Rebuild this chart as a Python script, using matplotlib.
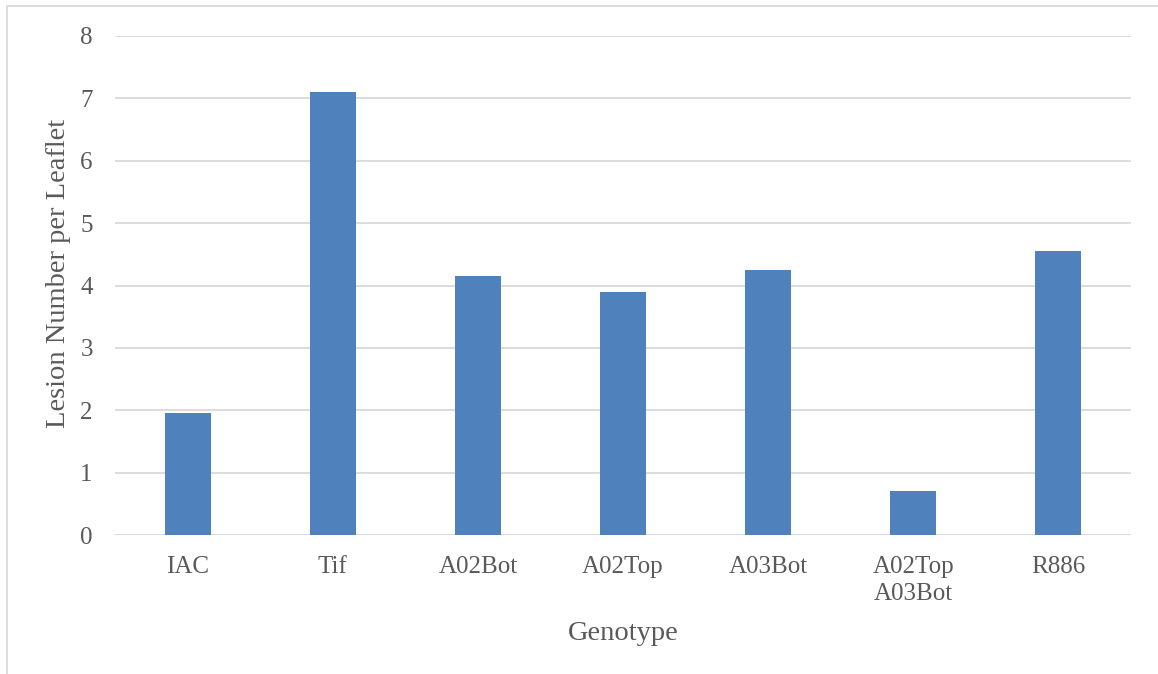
import matplotlib
matplotlib.use("Agg")
import matplotlib.pyplot as plt
from matplotlib.patches import Rectangle

# Lesion counts per genotype
genotypes = ["IAC", "Tif", "A02Bot", "A02Top", "A03Bot", "A02Top\nA03Bot", "R886"]
lesions = [1.95, 7.1, 4.15, 3.9, 4.25, 0.7, 4.55]
y_ticks = [0, 1, 2, 3, 4, 5, 6, 7, 8]

W, H, DPI = 1158, 674, 100
text_color = "#595959"
grid_color = "#d9d9d9"
bar_color = "#4f81bd"

plt.rcParams["font.family"] = ["Liberation Serif", "DejaVu Serif"]

fig = plt.figure(figsize=(W / DPI, H / DPI), dpi=DPI)
fig.patch.set_facecolor("white")

# chart frame (light border at top-left)
fig.add_artist(Rectangle((7 / W, -0.1), 1.2, 1 - 6.5 / H + 0.1,
                         transform=fig.transFigure, fill=False,
                         edgecolor=grid_color, linewidth=1.3))

# plot area in pixel units
left, right, top, bottom = 115, 1131, 36, 535
ax = fig.add_axes([left / W, 1 - bottom / H, (right - left) / W, (bottom - top) / H])

x = range(len(genotypes))
ax.bar(x, lesions, width=0.317, color=bar_color, zorder=3)

ax.set_xlim(-0.5, len(genotypes) - 0.5)
ax.set_ylim(0, 8)
ax.set_yticks(y_ticks)
ax.set_xticks(list(x))
ax.set_xticklabels(genotypes, linespacing=1.3)

ax.grid(axis="y", color=grid_color, linewidth=1.3, zorder=0)
ax.axhline(0, color=grid_color, linewidth=2, zorder=2)
for s in ax.spines.values():
    s.set_visible(False)

ax.tick_params(axis="both", length=0, labelsize=18, colors=text_color)
ax.tick_params(axis="y", pad=16)
ax.tick_params(axis="x", pad=15)

ax.set_xlabel("Genotype", fontsize=20.5, color=text_color)
ax.set_ylabel("Lesion Number per Leaflet", fontsize=20.5, color=text_color)
ax.xaxis.set_label_coords(0.5, -(640 - bottom) / (bottom - top))
ax.xaxis.label.set_va("baseline")
ax.yaxis.set_label_coords(-(left - 59) / (right - left), (bottom - 273) / (bottom - top))
ax.yaxis.label.set_va("center")

fig.savefig("out.png", dpi=DPI, facecolor="white")
